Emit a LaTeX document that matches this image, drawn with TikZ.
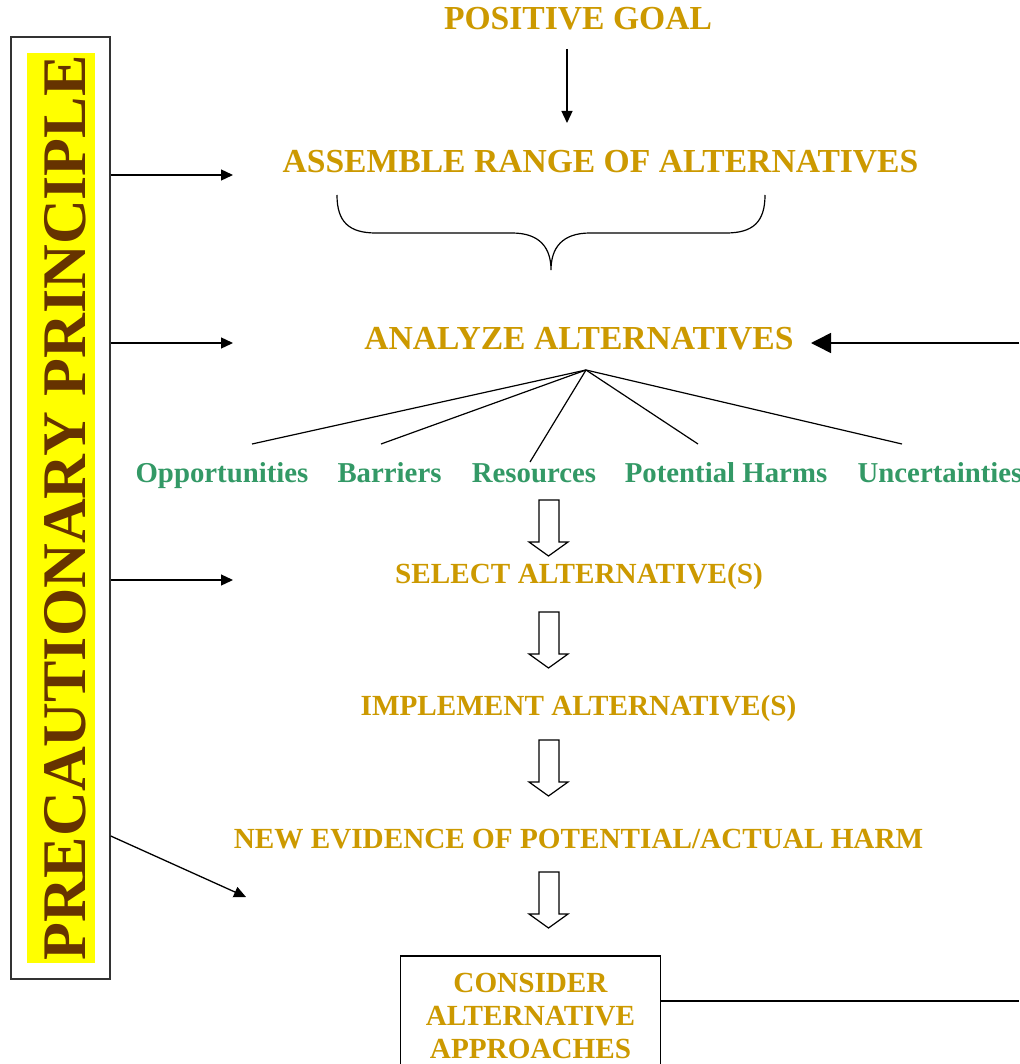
\documentclass[tikz,border=0pt]{standalone}
\usepackage{fontspec}
\setmainfont{Liberation Serif}
\usetikzlibrary{arrows.meta}
\usepackage{xcolor}
\definecolor{gold}{HTML}{CC9900}
\definecolor{seagreen}{HTML}{339966}
\definecolor{darkbrown}{HTML}{663300}
\definecolor{hilite}{HTML}{FFFF00}

\begin{document}
\begin{tikzpicture}[x=0.5pt,y=-0.5pt]
	\tikzset{stage/.style = {text=gold, anchor=base, inner sep=0pt, font=\bfseries\fontsize{14.6}{16.5}\selectfont}}
	\tikzset{title/.style = {stage, font=\bfseries\fontsize{16.8}{19}\selectfont}}
	\tikzset{factor/.style = {text=seagreen, anchor=base, inner sep=0pt, font=\bfseries\fontsize{14.4}{16.5}\selectfont}}
	\tikzset{link/.style = {-{Triangle[length=6pt,width=5.5pt]}, line width=0.65pt}}
	\tikzset{feedback/.style = {-{Triangle[length=10pt,width=10pt]}, line width=0.75pt}}
	\tikzset{fanline/.style = {line width=0.6pt}}
	\tikzset{hollow/.style = {draw, fill=white, line width=0.6pt, line join=miter}}
	\useasboundingbox (0,0) rectangle (1019,1064);
	% main column
	\node[title] (goal) at (578,30) {POSITIVE GOAL};
	\node[title] (assemble) at (600.5,173) {ASSEMBLE RANGE OF ALTERNATIVES};
	\node[title] (analyze) at (579,349) {ANALYZE ALTERNATIVES};
	\node[stage] (select) at (579,583) {SELECT ALTERNATIVE(S)};
	\node[stage] (implement) at (578.5,715) {IMPLEMENT ALTERNATIVE(S)};
	\node[stage] (evidence) at (578.5,848) {NEW EVIDENCE OF POTENTIAL/ACTUAL HARM};
	\node[stage, draw=black, line width=0.75pt, anchor=north, text width=118pt, align=center, inner xsep=6pt, inner ysep=8.5pt] (consider) at (530.5,955) {CONSIDER\\ALTERNATIVE\\APPROACHES};
	% factors
	\node[factor] (opp) at (222,482) {Opportunities};
	\node[factor] (barriers) at (389.5,482) {Barriers};
	\node[factor] (resources) at (534,482) {Resources};
	\node[factor] (harms) at (726,482) {Potential Harms};
	\node[factor] (uncert) at (940,482) {Uncertainties};
	% side bar
	\node[draw=black!80, line width=0.75pt, minimum width=49.5pt, minimum height=471pt, inner sep=0pt] (frame) at (60.5,508) {};
	\node[fill=hilite, text=darkbrown, rotate=90, inner xsep=1pt, inner ysep=0pt, text height=29pt, text depth=5pt, font=\bfseries\fontsize{31}{36}\selectfont] (precaution) at (61,508) {PRECAUTIONARY PRINCIPLE};
	% coordinates
	\coordinate (goaldown) at (567,49);
	\coordinate (assembleup) at (567,123);
	\coordinate (in1) at (233,175);
	\coordinate (in2) at (233,343);
	\coordinate (in3) at (233,580);
	\coordinate (out4) at (110,836);
	\coordinate (in4) at (246,897);
	\coordinate (fan) at (586,370);
	\coordinate (opptip) at (252,444);
	\coordinate (bartip) at (381,444);
	\coordinate (restip) at (530,462);
	\coordinate (harmtip) at (698,444);
	\coordinate (unctip) at (902,444);
	\coordinate (loopin) at (1019,343);
	\coordinate (loopout) at (1019,1001);
	%edges
	\draw[link] (goaldown) to (assembleup);
	\draw[link] (frame.east |- in1) to (in1);
	\draw[link] (frame.east |- in2) to (in2);
	\draw[link] (frame.east |- in3) to (in3);
	\draw[link] (frame.east |- out4) to (in4);
	\foreach \tip in {opptip,bartip,restip,harmtip,unctip}
		\draw[fanline] (fan) to (\tip);
	\draw[line width=0.75pt] (consider.east |- loopout) to (loopout);
	\draw[feedback, shorten >=8.5pt] (loopin) to (analyze.east |- loopin);
	% brace
	\draw[line width=0.6pt] (337,195) .. controls (337,222) and (349,233) .. (376,233) -- (512,233)
		.. controls (540,233) and (551,248) .. (551,270)
		.. controls (551,248) and (562,233) .. (590,233) -- (726,233)
		.. controls (753,233) and (765,222) .. (765,195);
	% hollow arrows
	\foreach \ya in {500,612,740,872}
		\draw[hollow] (539,\ya) -- (559,\ya) -- (559,\ya+42) -- (568,\ya+42) -- (548.5,\ya+56) -- (529,\ya+42) -- (539,\ya+42) -- cycle;
\end{tikzpicture}
\end{document}
